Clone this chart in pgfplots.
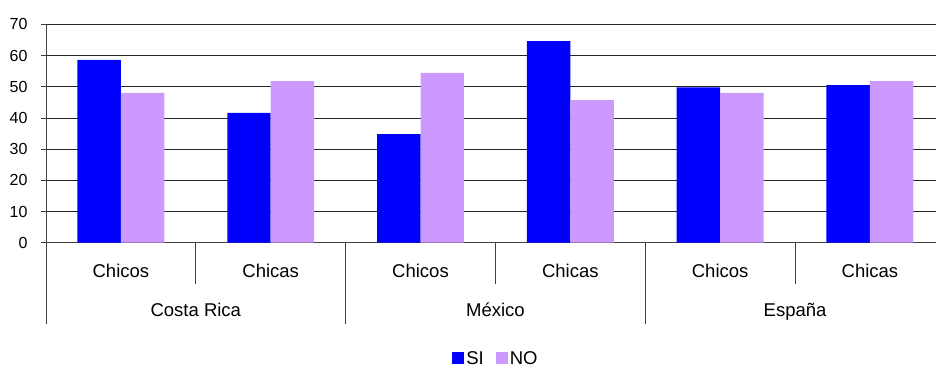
\documentclass[border=0pt]{standalone}
\usepackage{pgfplots}
\pgfplotsset{compat=1.18}
\usepackage{fontspec}
\setmainfont{Liberation Sans}
\definecolor{siblue}{RGB}{0,0,255}
\definecolor{nopurple}{RGB}{204,153,255}
\begin{document}
\begin{tikzpicture}
\useasboundingbox (0,0) rectangle (936bp,369bp);
\begin{axis}[
  at={(46bp,126.3bp)}, anchor=south west,
  scale only axis, width=890bp, height=218.4bp,
  xmin=-0.5, xmax=5.441, ymin=0, ymax=70,
  ytick={0,10,...,70},
  xtick={0,...,5},
  xticklabels={Chicos,Chicas,Chicos,Chicas,Chicos,Chicas},
  axis x line=bottom, axis y line=left,
  axis line style={-, black!75, line width=0.8bp},
  major x tick style={draw=none},
  ymajorgrids, grid style={black!85, line width=0.8bp},
  tick align=outside, major tick length=5bp,
  ytick style={black!75, line width=0.8bp},
  yticklabel style={font=\fontsize{16bp}{18bp}\selectfont, xshift=-10bp, /pgf/number format/assume math mode=true},
  xticklabel style={font=\fontsize{18.5bp}{20bp}\selectfont, anchor=base, yshift=-30bp},
  clip=false,
  legend columns=2,
  legend style={at={(0.5056,-0.53)}, anchor=center, draw=none, fill=none,
    font=\fontsize{18.5bp}{20bp}\selectfont, inner sep=0pt,
    /tikz/every even column/.append style={column sep=10bp}},
]
\addplot[ybar, bar width=0.29, bar shift=-0.145, fill=siblue, draw=none,
  legend image code/.code={\fill[siblue] (0bp,-6bp) rectangle (12bp,6bp);}]
  coordinates {(0,58.6) (1,41.6) (2,34.8) (3,64.6) (4,49.8) (5,50.5)};
\addlegendentry{SI}
\addplot[ybar, bar width=0.29, bar shift=0.145, fill=nopurple, draw=none,
  legend image code/.code={\fill[nopurple] (0bp,-6bp) rectangle (12bp,6bp);}]
  coordinates {(0,48.0) (1,51.8) (2,54.4) (3,45.7) (4,48.0) (5,51.8)};
\addlegendentry{NO}
\draw[black!75, line width=0.8bp] (axis cs:-0.5,0) -- ([yshift=-81bp]axis cs:-0.5,0);
\draw[black!75, line width=0.8bp] (axis cs:1.5,0) -- ([yshift=-81bp]axis cs:1.5,0);
\draw[black!75, line width=0.8bp] (axis cs:3.5,0) -- ([yshift=-81bp]axis cs:3.5,0);
\draw[black!75, line width=0.8bp] (axis cs:0.5,0) -- ([yshift=-41bp]axis cs:0.5,0);
\draw[black!75, line width=0.8bp] (axis cs:2.5,0) -- ([yshift=-41bp]axis cs:2.5,0);
\draw[black!75, line width=0.8bp] (axis cs:4.5,0) -- ([yshift=-41bp]axis cs:4.5,0);
\node[font=\fontsize{18.5bp}{20bp}\selectfont, anchor=base, yshift=-74bp] at (axis cs:0.5,0) {Costa Rica};
\node[font=\fontsize{18.5bp}{20bp}\selectfont, anchor=base, yshift=-74bp] at (axis cs:2.5,0) {México};
\node[font=\fontsize{18.5bp}{20bp}\selectfont, anchor=base, yshift=-74bp] at (axis cs:4.5,0) {España};
\end{axis}
\end{tikzpicture}
\end{document}
